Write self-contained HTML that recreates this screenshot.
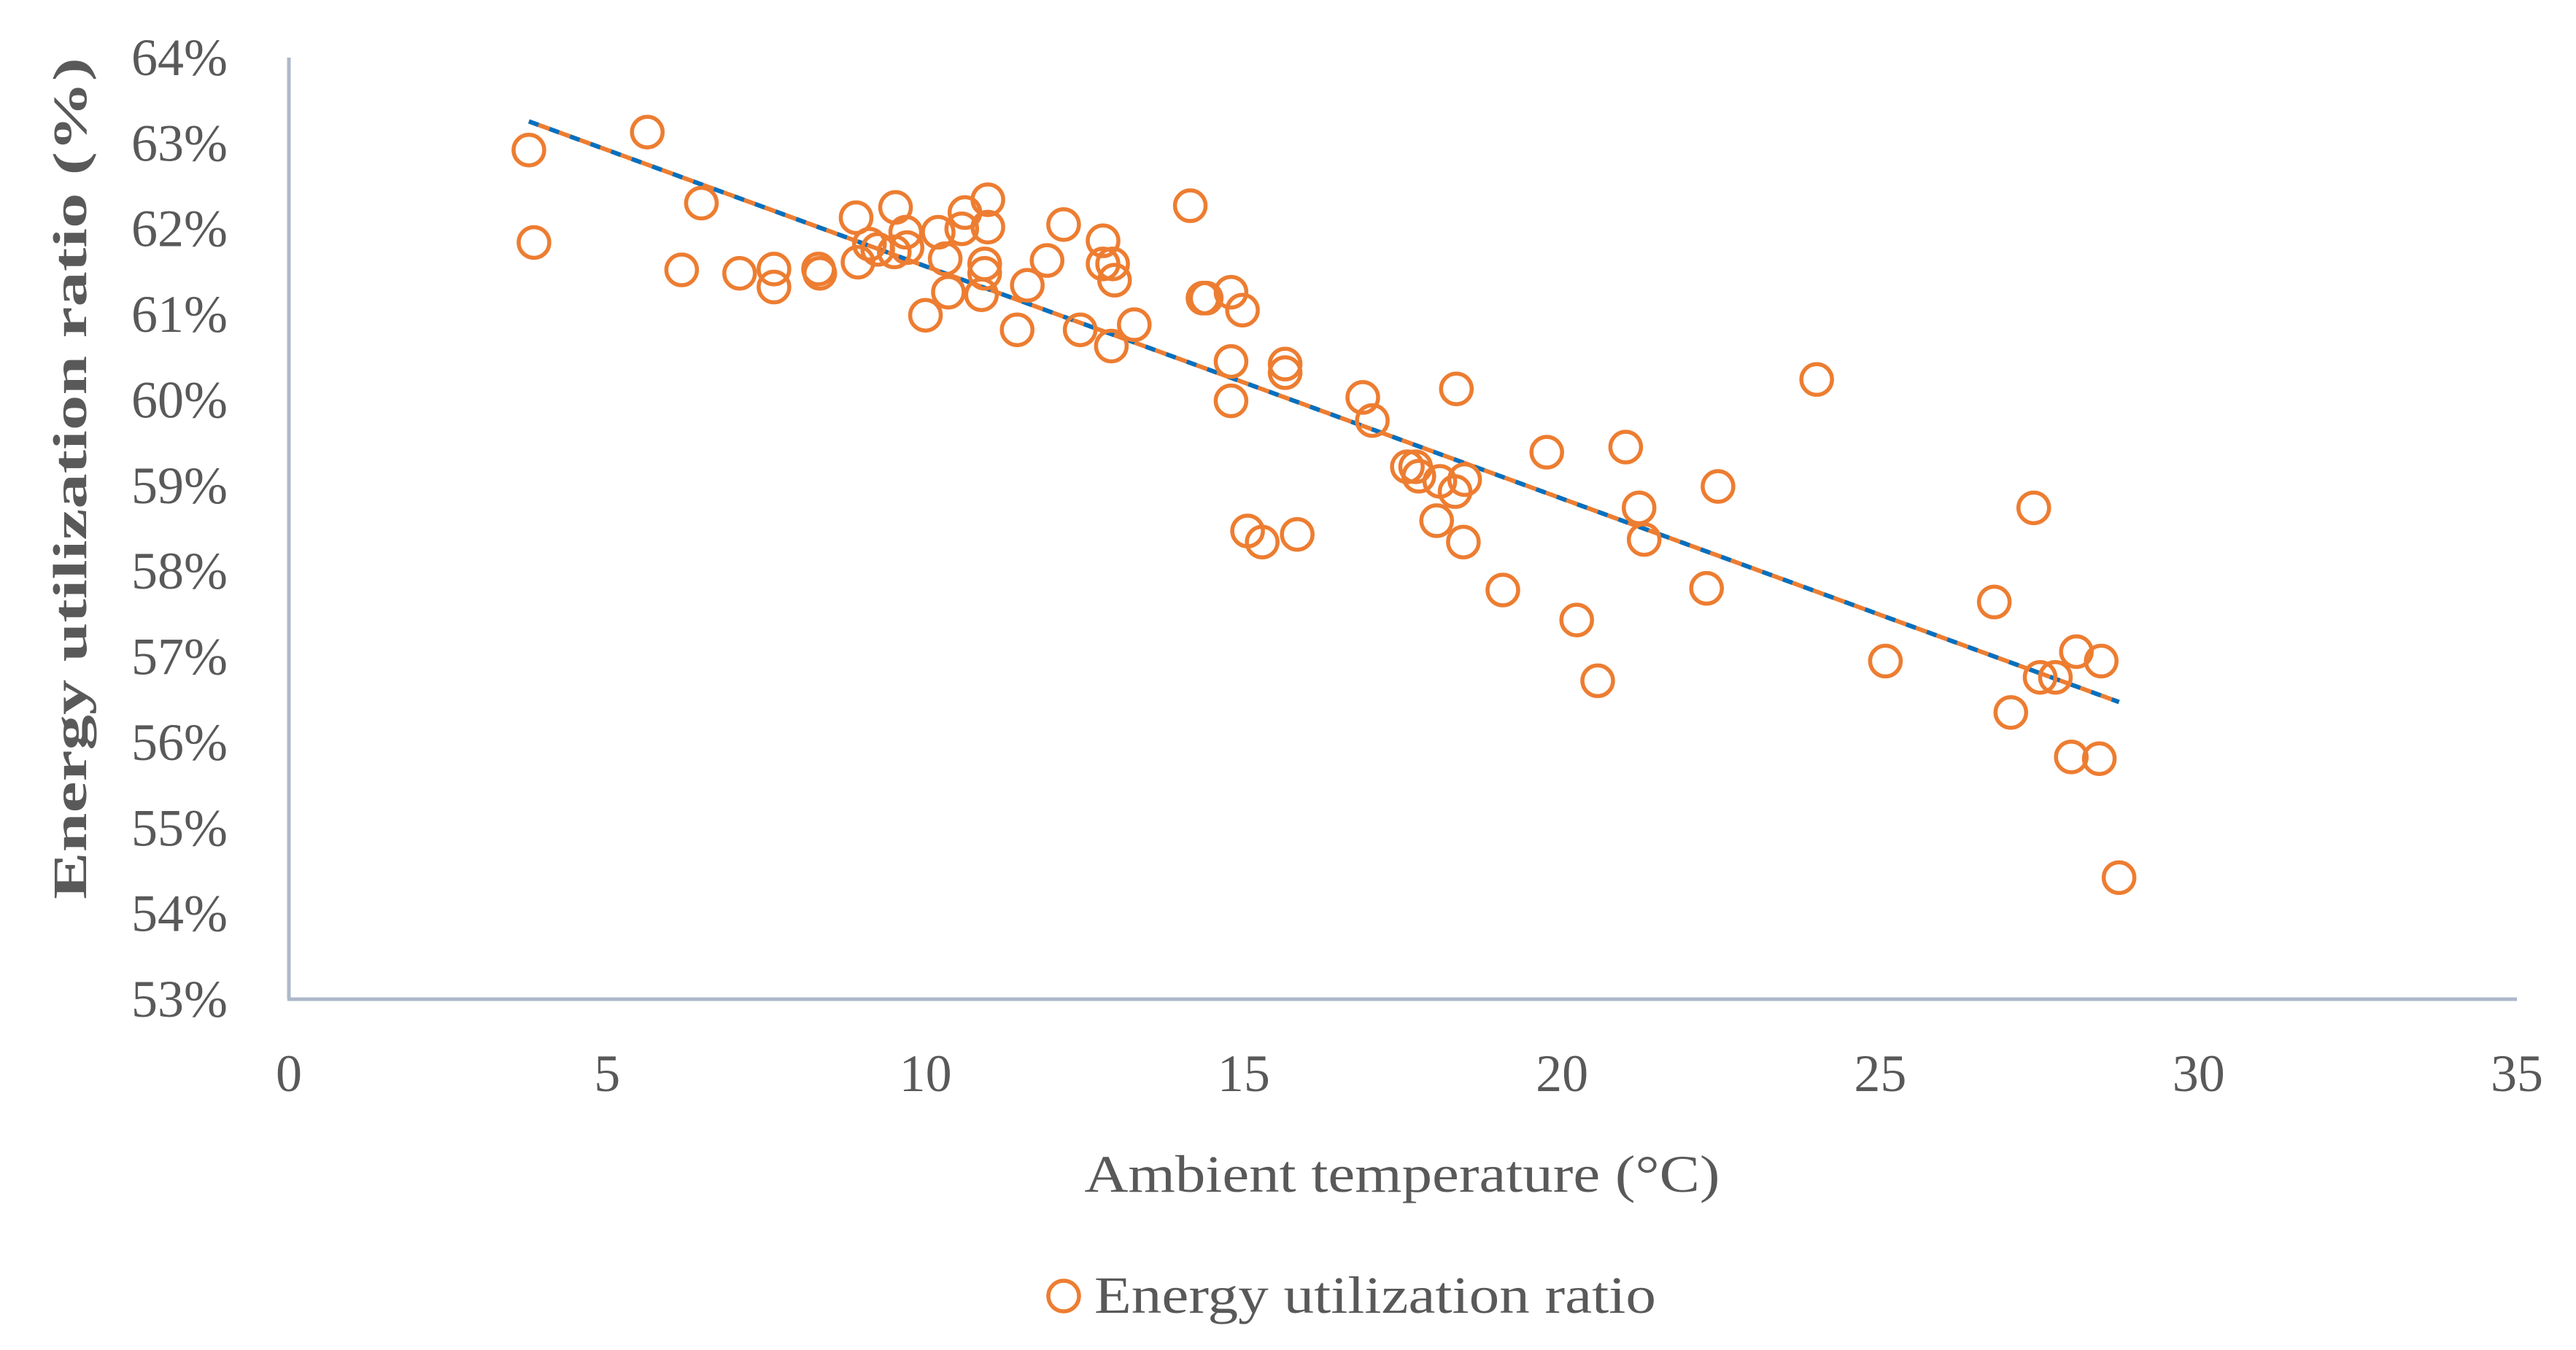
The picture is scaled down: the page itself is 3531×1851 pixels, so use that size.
<!DOCTYPE html>
<html><head><meta charset="utf-8"><style>
html,body{margin:0;padding:0;background:#fff}
svg{display:block}
text{font-family:"Liberation Serif",serif;fill:#595959}
</style></head><body>
<svg id="chart" width="3531" height="1851" viewBox="0 0 3531 1851" xmlns="http://www.w3.org/2000/svg">
<g id="ticks"></g><g id="trend"></g><g id="points"></g>
<line x1="396" y1="79" x2="396" y2="1370" stroke="#adb9ca" stroke-width="5"/>
<line x1="394" y1="1370" x2="3450" y2="1370" stroke="#adb9ca" stroke-width="5"/>
<text transform="translate(118,656) rotate(-90)" text-anchor="middle" font-weight="bold" font-size="66" textLength="1154" lengthAdjust="spacingAndGlyphs">Energy utilization ratio (%)</text>
<text x="1922" y="1634" text-anchor="middle" font-size="72" textLength="871" lengthAdjust="spacingAndGlyphs">Ambient temperature (°C)</text>
<g>
<circle cx="1458" cy="1777" r="21" fill="none" stroke="#ed7d31" stroke-width="5.5"/>
<text x="1500" y="1800" font-size="72" textLength="770" lengthAdjust="spacingAndGlyphs">Energy utilization ratio</text>
</g>
</svg>
<script>
const xTicks=[0,5,10,15,20,25,30,35];
const yTicks=[53,54,55,56,57,58,59,60,61,62,63,64];
const temps=[3.77,3.85,5.63,6.17,6.48,7.08,7.62,7.62,8.32,8.34,8.91,8.94,9.12,9.25,9.53,9.51,9.69,9.71,10.00,10.20,10.31,10.36,10.57,10.62,10.88,10.93,10.98,10.98,10.93,11.44,11.60,11.91,12.17,12.43,12.79,12.79,12.94,12.97,12.92,13.28,14.16,14.36,14.41,14.80,14.80,14.80,14.98,15.06,15.29,15.65,15.65,15.84,16.87,17.02,17.57,17.70,17.75,18.03,18.08,18.32,18.34,18.45,18.47,19.07,19.76,20.23,20.56,21.00,21.21,21.29,22.27,22.45,24.00,25.08,26.79,27.05,27.41,27.51,27.75,28.00,28.08,28.44,28.47,28.75];
const ratios=[62.92,61.84,63.13,61.52,62.30,61.48,61.53,61.32,61.53,61.48,62.13,61.61,61.82,61.76,62.25,61.73,61.96,61.78,60.99,61.96,61.65,61.26,62.00,62.19,61.23,61.59,62.34,62.02,61.48,60.82,61.34,61.63,62.05,60.82,61.86,61.59,61.59,61.40,60.63,60.88,62.27,61.19,61.19,61.26,60.45,59.99,61.05,58.47,58.34,60.42,60.32,58.43,60.03,59.76,59.22,59.22,59.11,58.59,59.05,58.93,60.13,58.34,59.07,57.78,59.39,57.43,56.72,59.45,58.74,58.37,57.80,58.99,60.24,56.95,57.64,56.35,58.74,56.76,56.76,55.83,57.06,55.81,56.95,54.42];
const NS='http://www.w3.org/2000/svg';
const X0=396,X1=3450,Y0=1370,Y1=79;
function sx(v){return X0+(v-0)/(35-0)*(X1-X0);}
function sy(v){return Y0-(v-53)/(64-53)*(Y0-Y1);}
const tg=document.getElementById('ticks');
xTicks.forEach(t=>{const e=document.createElementNS(NS,'text');


e.setAttribute('x',sx(t));e.setAttribute('y',1496);e.setAttribute('text-anchor','middle');e.setAttribute('font-size','72');e.textContent=t;tg.appendChild(e);});
yTicks.forEach(t=>{const e=document.createElementNS(NS,'text');


e.setAttribute('x',312);e.setAttribute('y',sy(t)+24);e.setAttribute('text-anchor','end');e.setAttribute('font-size','72');e.textContent=t+'%';tg.appendChild(e);});
const n=temps.length;let mx=0,my=0;temps.forEach((v,i)=>{mx+=v;my+=ratios[i];});mx/=n;my/=n;
let sxy=0,sxx=0;temps.forEach((v,i)=>{sxy+=(v-mx)*(ratios[i]-my);sxx+=(v-mx)*(v-mx);});
const b=sxy/sxx,a=my-b*mx;const xa=Math.min(...temps),xb=Math.max(...temps);
const tr=document.getElementById('trend');
[['#ed7d31','none','trendline-solid'],['#0070c0','14 16','trendline-dashed']].forEach(s=>{
const l=document.createElementNS(NS,'line');


l.setAttribute('x1',sx(xa));l.setAttribute('y1',sy(a+b*xa));l.setAttribute('x2',sx(xb));l.setAttribute('y2',sy(a+b*xb));
l.setAttribute('stroke',s[0]);l.setAttribute('stroke-width','6');if(s[1]!=='none')l.setAttribute('stroke-dasharray',s[1]);tr.appendChild(l);});
const pg=document.getElementById('points');
temps.forEach((v,i)=>{const c=document.createElementNS(NS,'circle');


c.setAttribute('cx',sx(v));c.setAttribute('cy',sy(ratios[i]));c.setAttribute('r','21');c.setAttribute('fill','none');c.setAttribute('stroke','#ed7d31');c.setAttribute('stroke-width','5.5');pg.appendChild(c);});
</script>
</body></html>
